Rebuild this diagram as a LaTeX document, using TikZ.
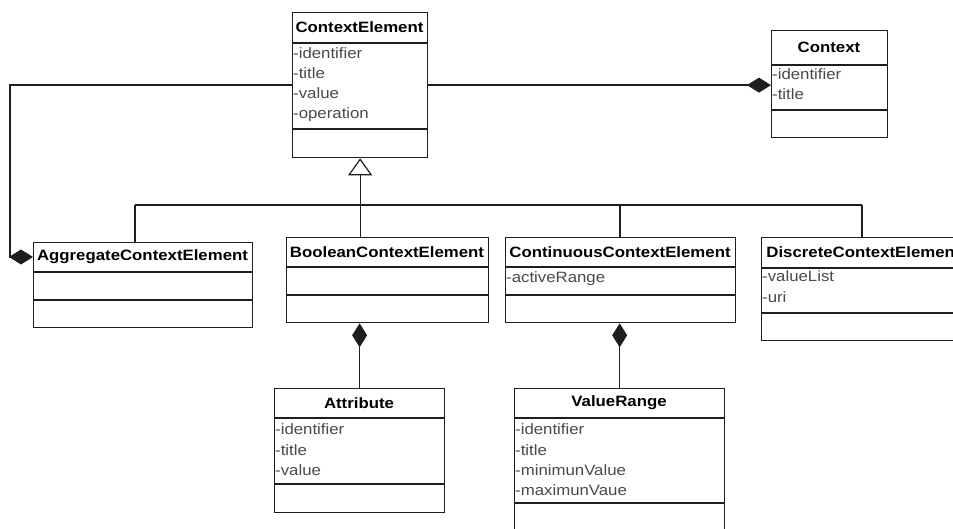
\documentclass[tikz,border=0pt]{standalone}
\usepackage{fontspec}
\setmainfont{Liberation Sans}[FakeStretch=1.12]
\usetikzlibrary{arrows.meta}

\definecolor{linec}{HTML}{1E1E1E}
\definecolor{attrc}{HTML}{4A4A4A}

\tikzset{
  classbox/.style={draw=linec, line width=1.3pt, fill=white, inner sep=0pt, anchor=north west},
  seprule/.style={draw=linec, line width=1.6pt},
  classtitle/.style={font=\fontsize{15}{18}\selectfont\bfseries, text=black, inner sep=0pt},
  attrtext/.style={font=\fontsize{15}{18}\selectfont, text=attrc, inner sep=0pt,
                   text height=11pt, text depth=3pt, anchor=west},
  link/.style={draw=linec, line width=1.3pt},
  compo/.style={link, -{Diamond[length=24pt,width=15pt]}},
  inherit/.style={link, -{Triangle[open,length=17pt,width=24pt,line width=1.2pt]}},
}

% class box: name, left, top, right, bottom, first rule, second rule, title
\newcommand\umlclass[8]{%
  \node[classbox, minimum width={(#4-#2)*1pt}, minimum height={(#5-#3)*1pt}] (#1) at (#2,#3) {};
  \draw[seprule] (#2,#6) -- (#4,#6);
  \draw[seprule] (#2,#7) -- (#4,#7);
  \node[classtitle] (#1-title) at ({(#2+#4)/2},{(#3+#6)/2}) {#8};
}
% attribute line: node name, left, y, text
\newcommand\umlattr[4]{\node[attrtext] (#1) at ({#2+1},#3) {-#4};}

\begin{document}
\begin{tikzpicture}[x=1pt, y=-1pt]
\useasboundingbox (0,0) rectangle (953,529);
\clip (0,0) rectangle (953,529);

% ---- classes ----
\umlclass{ce}{292}{12}{427}{157}{43}{129}{ContextElement}
\umlattr{ce-a1}{292}{55}{identifier}
\umlattr{ce-a2}{292}{75}{title}
\umlattr{ce-a3}{292}{95}{value}
\umlattr{ce-a4}{292}{115}{operation}

\umlclass{ctx}{771}{30}{887}{137}{65}{110}{Context}
\umlattr{ctx-a1}{771}{76}{identifier}
\umlattr{ctx-a2}{771}{96}{title}

\umlclass{agg}{33}{242}{252}{327}{272}{300}{AggregateContextElement}

\umlclass{bool}{286}{237}{488}{322}{267}{295}{BooleanContextElement}

\umlclass{cont}{505}{237}{735}{322}{267}{295}{ContinuousContextElement}
\umlattr{cont-a1}{505}{279}{activeRange}

\umlclass{disc}{761}{237}{966}{340}{268}{313}{DiscreteContextElement}
\umlattr{disc-a1}{761}{278}{valueList}
\umlattr{disc-a2}{761}{298}{uri}

\umlclass{attr}{274}{388}{444}{512}{418}{484}{Attribute}
\umlattr{attr-a1}{274}{430}{identifier}
\umlattr{attr-a2}{274}{451}{title}
\umlattr{attr-a3}{274}{471}{value}

\umlclass{vr}{514}{388}{724}{545}{418}{503}{ValueRange}
\umlattr{vr-a1}{514}{430}{identifier}
\umlattr{vr-a2}{514}{451}{title}
\umlattr{vr-a3}{514}{471}{minimunValue}
\umlattr{vr-a4}{514}{491}{maximunVaue}

% ---- compositions ----
\draw[compo] (ce.east) -- (ce.east -| ctx.west);
\coordinate (lft) at (10,0);
\draw[compo] (ce.west) -| (lft |- agg-title) -- (agg.west |- agg-title);
\draw[compo] (attr.north) -- (attr.north |- bool.south);
\draw[compo] (vr.north) -- (vr.north |- cont.south);

% ---- generalization tree ----
\coordinate (b1) at (135,205);
\coordinate (b3) at (620,205);
\coordinate (b4) at (862,205);
\draw[link] (b1) -- (b4);
\draw[inherit] (bool.north -| ce.south) -- (ce.south);
\draw[link] (b1) -- (b1 |- agg.north);
\draw[link] (b3) -- (b3 |- cont.north);
\draw[link] (b4) -- (b4 |- disc.north);
\end{tikzpicture}
\end{document}
